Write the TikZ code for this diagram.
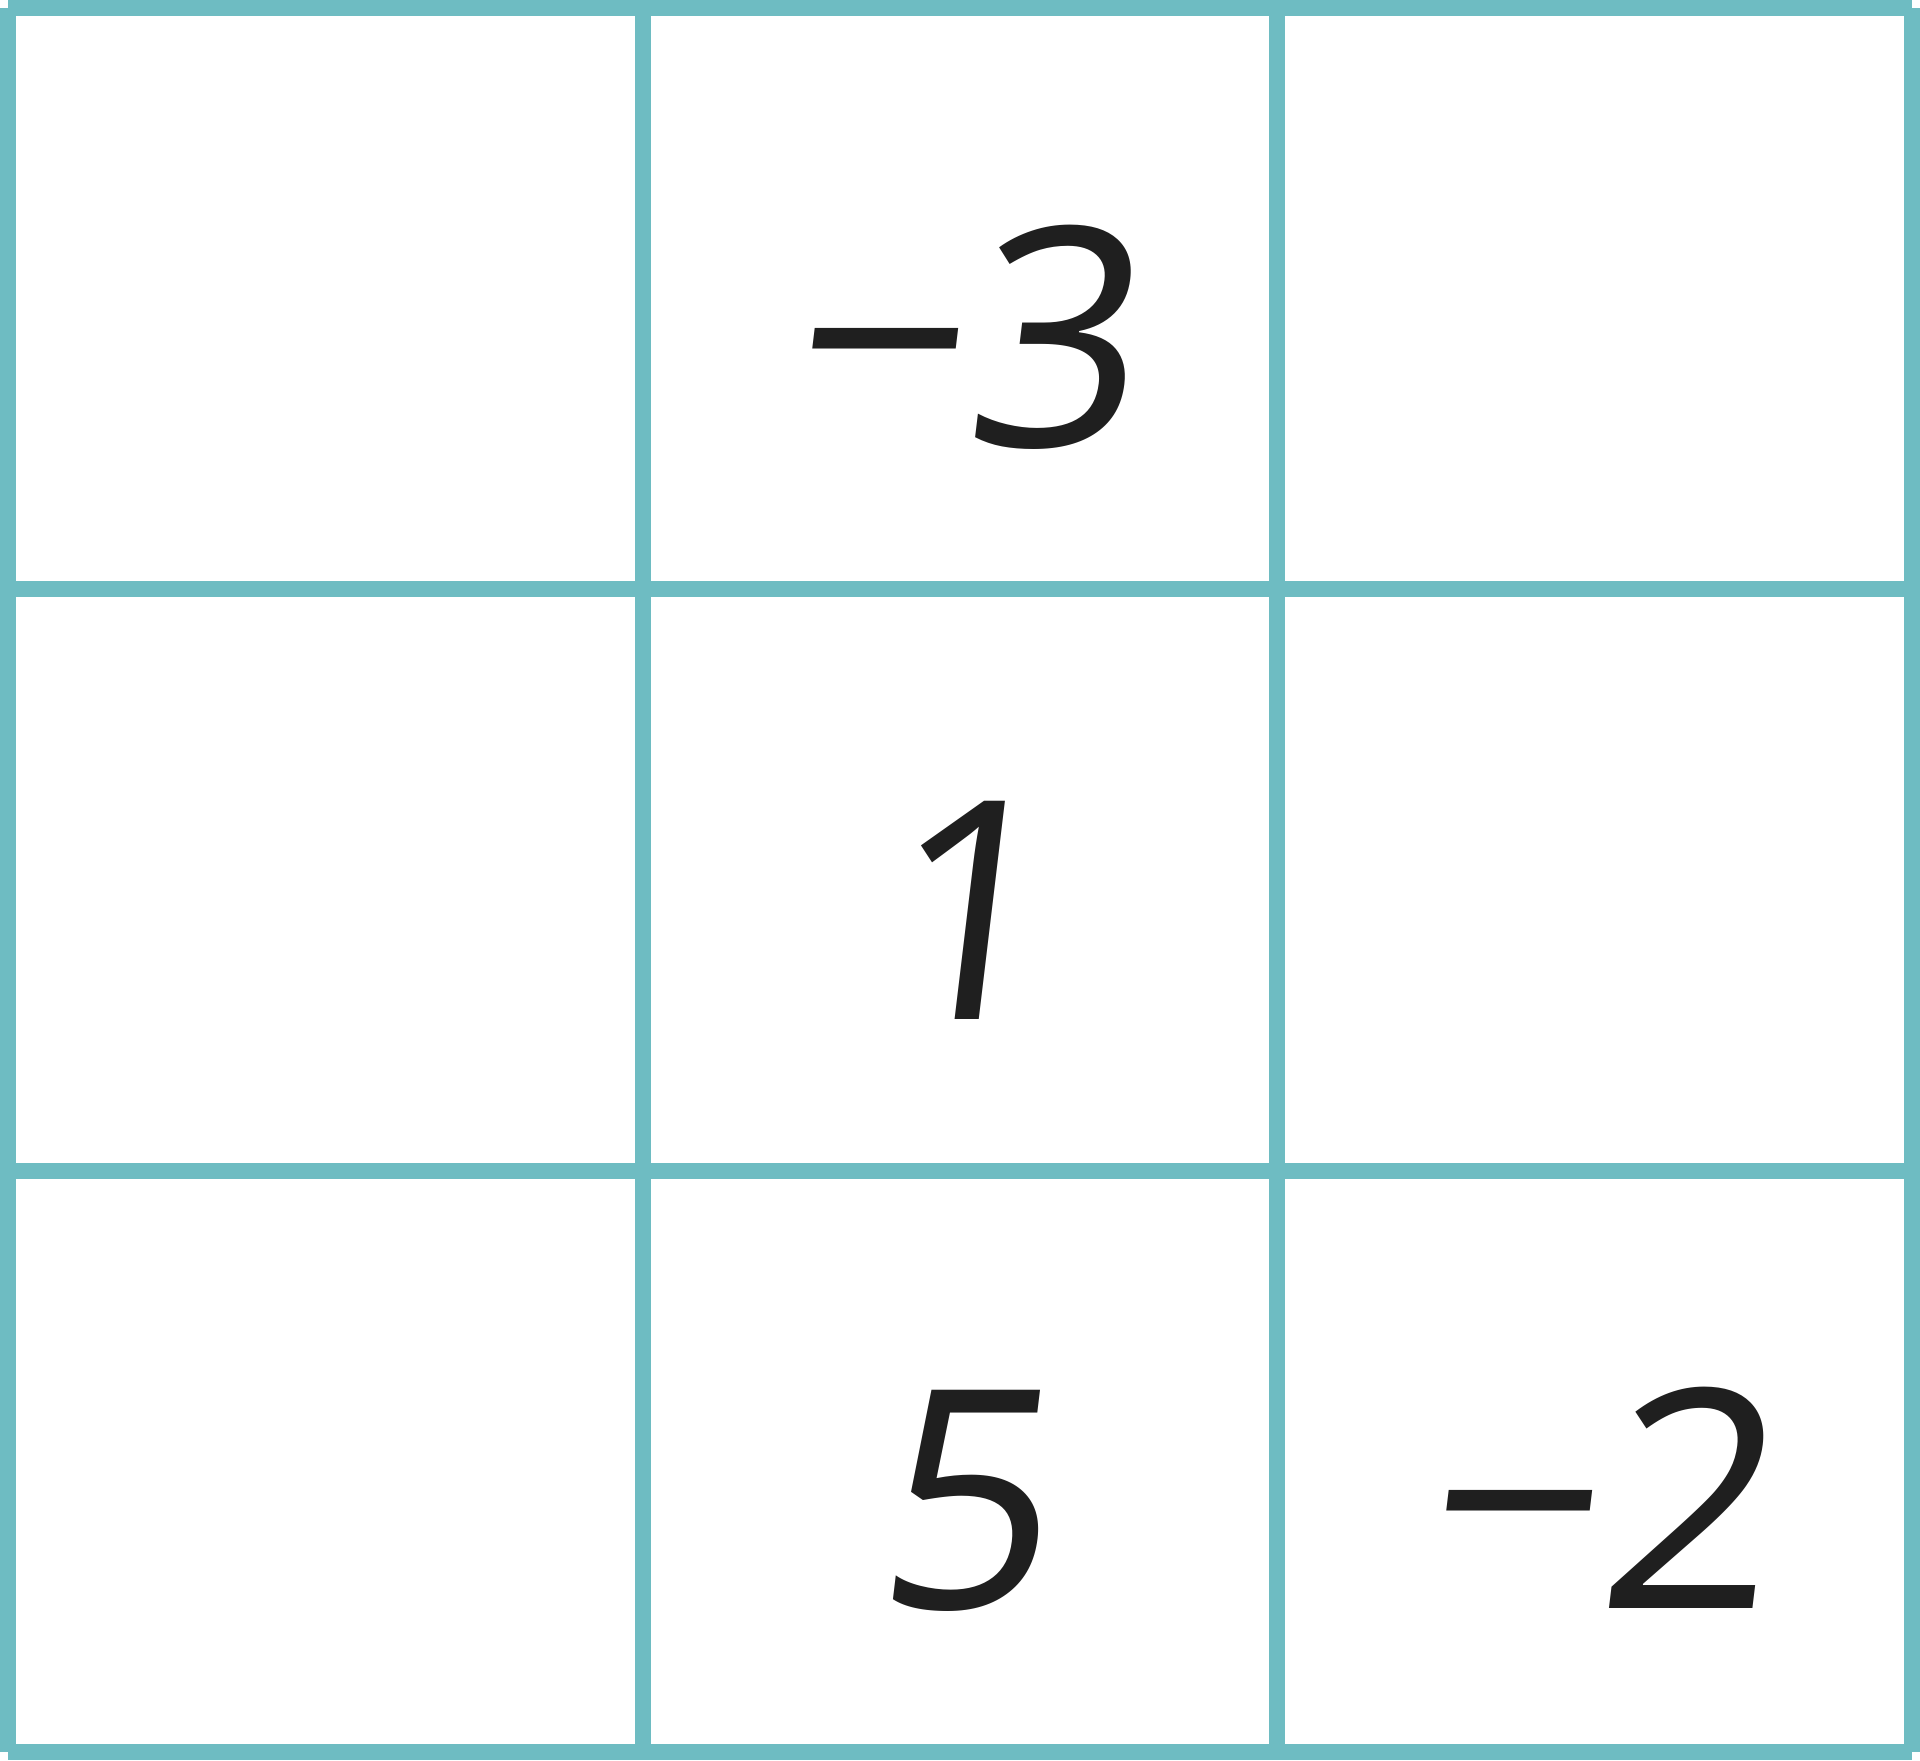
\documentclass[tikz,border=0pt]{standalone}
\usepackage{fontspec}
\newfontfamily\numfont[FakeSlant=0.12]{Open Sans}
\definecolor{gridteal}{RGB}{110,188,194}
\tikzset{entry/.style={anchor=base,inner sep=0pt,font=\numfont\fontsize{87}{100}\selectfont,text=black!88}}
\begin{document}
\begin{tikzpicture}[x=1cm,y=1cm]
			\useasboundingbox (0,0) rectangle (19.2,17.6);
			\foreach \x in {0.08,6.43,12.77,19.12}{\draw[gridteal,line width=0.16cm] (\x,0.08)--(\x,17.52);}
			\foreach \y in {0.08,5.89,11.71,17.52}{\draw[gridteal,line width=0.16cm] (0.08,\y)--(19.12,\y);}
			\node[entry] (a) at (9.60,13.13) {−3};
			\node[entry] (b) at (9.60,7.41) {1};
			\node[entry] (c) at (9.60,1.52) {5};
			\node[entry] (d) at (15.94,1.52) {−2};
		\end{tikzpicture}
\end{document}
